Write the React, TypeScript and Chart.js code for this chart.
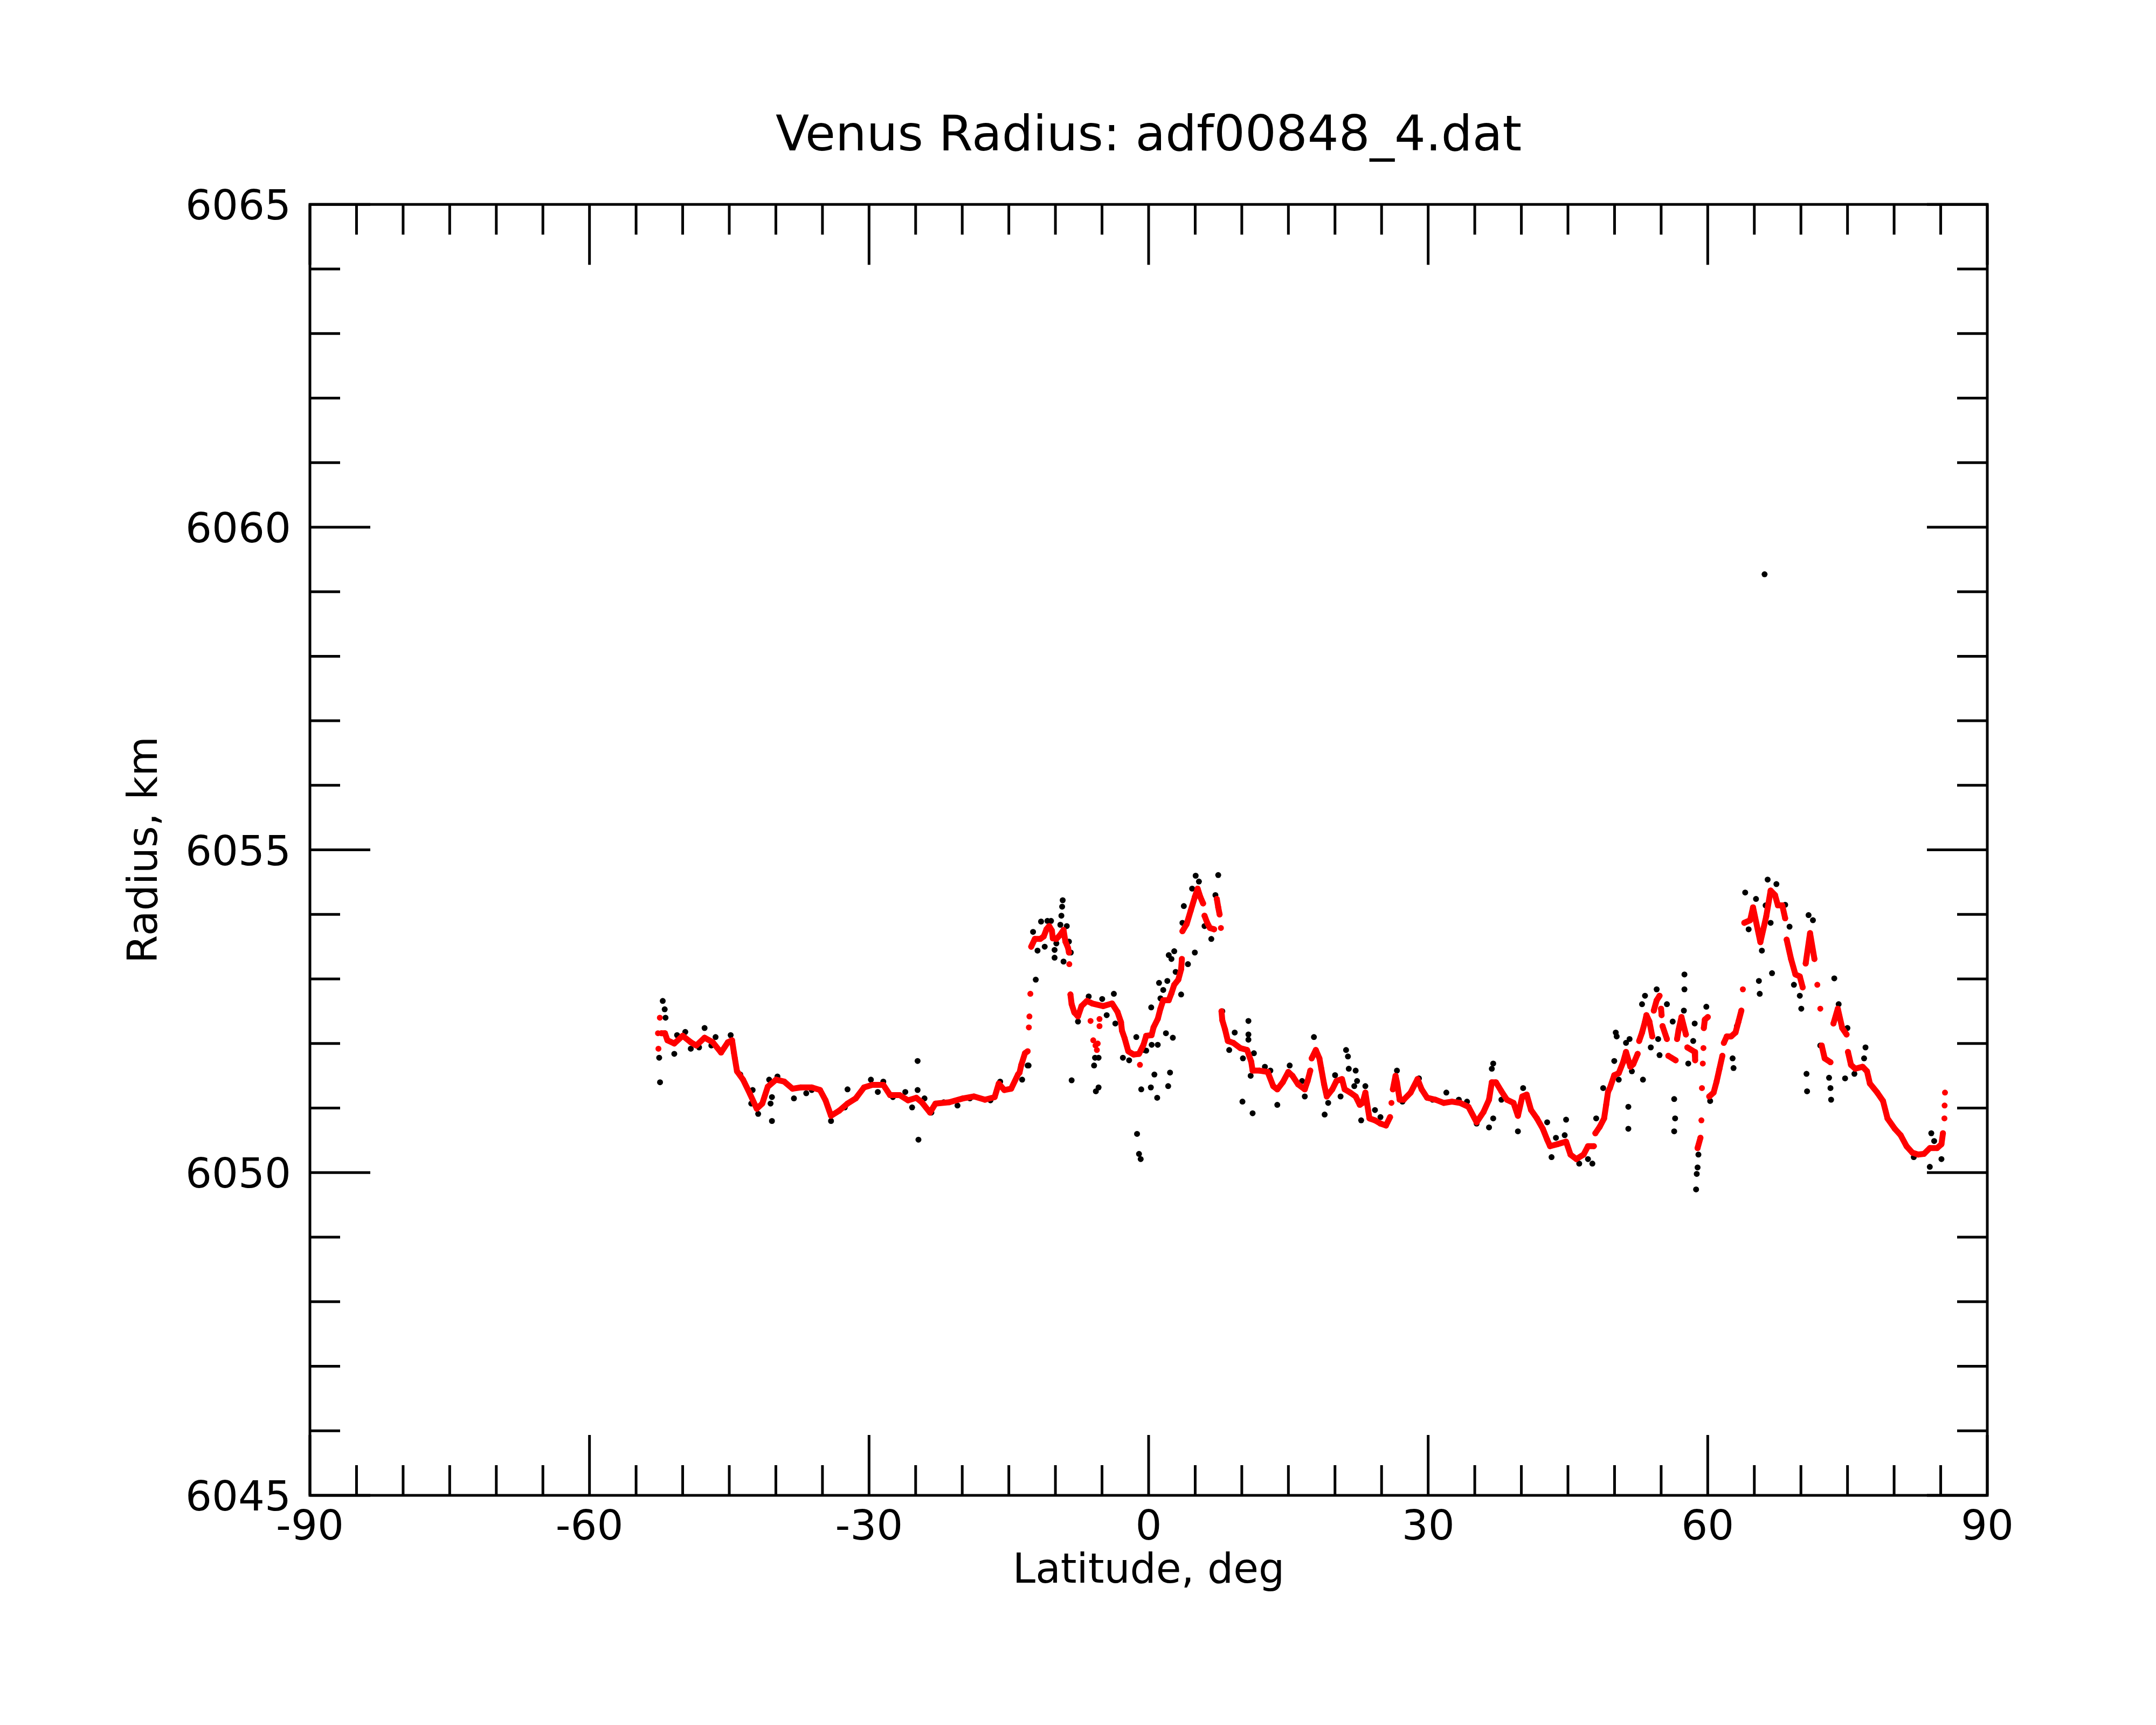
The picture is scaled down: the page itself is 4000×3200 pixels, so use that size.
import React, { useEffect, useRef } from "react";
import { Chart, registerables } from "chart.js";

Chart.register(...registerables);

// ---------------- data ----------------
const chartTitle = "Venus Radius: adf00848_4.dat";
const xAxisTitle = "Latitude, deg";
const yAxisTitle = "Radius, km";

const xMajorTicks = [-90, -60, -30, 0, 30, 60, 90];
const xMinorTicks = [-90, -85, -80, -75, -70, -65, -60, -55, -50, -45, -40, -35, -30, -25, -20, -15, -10, -5, 0, 5, 10, 15, 20, 25, 30, 35, 40, 45, 50, 55, 60, 65, 70, 75, 80, 85, 90];
const yMajorTicks = [6045, 6050, 6055, 6060, 6065];
const yMinorTicks = [6045, 6046, 6047, 6048, 6049, 6050, 6051, 6052, 6053, 6054, 6055, 6056, 6057, 6058, 6059, 6060, 6061, 6062, 6063, 6064, 6065];

// smoothed radius (red), [latitude, radius]
const smoothedPoints = [
  [-52.65, 6052.16], [-52.6, 6051.92], [-52.45, 6052.4], [-52.3, 6052.16], [-51.9, 6052.16], [-51.64, 6052.05],
  [-50.9, 6052.0], [-50.0, 6052.12], [-49.13, 6052.02], [-48.54, 6051.97], [-47.65, 6052.09], [-46.77, 6052.02],
  [-45.88, 6051.86], [-45.15, 6052.02], [-44.7, 6052.05], [-44.5, 6051.86], [-44.4, 6051.77], [-44.17, 6051.57],
  [-43.52, 6051.44], [-42.78, 6051.22], [-42.05, 6050.99], [-41.46, 6051.07], [-40.87, 6051.33], [-39.98, 6051.44],
  [-39.1, 6051.41], [-38.21, 6051.3], [-37.33, 6051.32], [-36.15, 6051.32], [-35.26, 6051.28], [-34.67, 6051.12],
  [-34.08, 6050.88], [-33.2, 6050.96], [-32.31, 6051.07], [-31.43, 6051.15], [-30.54, 6051.32], [-29.65, 6051.36],
  [-28.47, 6051.36], [-27.74, 6051.2], [-26.7, 6051.2], [-25.82, 6051.12], [-24.93, 6051.16], [-24.34, 6051.09],
  [-23.46, 6050.93], [-22.87, 6051.07], [-21.39, 6051.09], [-19.92, 6051.15], [-18.74, 6051.18], [-17.56, 6051.13],
  [-16.52, 6051.17], [-16.08, 6051.38], [-15.49, 6051.28], [-14.75, 6051.3], [-14.02, 6051.52], [-13.85, 6051.55],
  [-13.66, 6051.67], [-13.27, 6051.85], [-12.98, 6051.88], [-12.85, 6052.25], [-12.79, 6052.42], [-12.69, 6052.77],
  [-12.6, 6053.5], [-12.21, 6053.62], [-11.63, 6053.62], [-11.25, 6053.66], [-10.96, 6053.77], [-10.67, 6053.82],
  [-10.38, 6053.75], [-10.28, 6053.63], [-9.9, 6053.62], [-9.51, 6053.68], [-9.13, 6053.76], [-8.93, 6053.58],
  [-8.64, 6053.48], [-8.55, 6053.41], [-8.51, 6053.23], [-8.39, 6052.76], [-8.26, 6052.61], [-7.97, 6052.48],
  [-7.58, 6052.42], [-7.2, 6052.58], [-6.62, 6052.66], [-6.04, 6052.62], [-4.88, 6052.58], [-3.92, 6052.62],
  [-3.34, 6052.49], [-2.96, 6052.33], [-2.86, 6052.2], [-2.57, 6052.08], [-2.18, 6051.88], [-1.61, 6051.83],
  [-1.03, 6051.84], [-0.55, 6051.98], [-0.26, 6052.12], [0.32, 6052.13], [0.53, 6052.25], [0.98, 6052.38],
  [1.27, 6052.54], [1.57, 6052.67], [2.16, 6052.67], [2.45, 6052.78], [2.75, 6052.91], [3.19, 6052.99],
  [3.49, 6053.15], [3.57, 6053.31], [3.63, 6053.74], [4.08, 6053.85], [4.52, 6054.06], [4.96, 6054.27],
  [5.26, 6054.4], [5.55, 6054.27], [5.85, 6054.17], [6.0, 6053.98], [6.29, 6053.87], [6.58, 6053.79],
  [7.03, 6053.77], [7.32, 6054.24], [7.47, 6054.11], [7.62, 6054.0], [7.76, 6053.79], [7.82, 6052.5],
  [7.91, 6052.36], [8.2, 6052.22], [8.5, 6052.04], [9.09, 6052.01], [9.83, 6051.93], [10.57, 6051.9],
  [11.01, 6051.72], [11.16, 6051.58], [11.9, 6051.58], [12.78, 6051.56], [13.37, 6051.34], [13.81, 6051.29],
  [14.4, 6051.4], [14.99, 6051.56], [15.44, 6051.5], [16.03, 6051.37], [16.76, 6051.29], [17.06, 6051.42],
  [17.35, 6051.58], [17.5, 6051.77], [17.94, 6051.9], [18.33, 6051.77], [18.53, 6051.61], [18.83, 6051.37],
  [19.12, 6051.18], [19.71, 6051.29], [20.16, 6051.42], [20.75, 6051.45], [21.04, 6051.29], [21.63, 6051.24],
  [22.22, 6051.18], [22.66, 6051.05], [22.96, 6051.08], [23.26, 6051.24], [23.7, 6050.84], [24.29, 6050.81],
  [24.88, 6050.76], [25.47, 6050.73], [25.91, 6050.86], [26.06, 6051.08], [26.21, 6051.29], [26.5, 6051.5],
  [26.65, 6051.4], [26.94, 6051.13], [27.38, 6051.13], [28.12, 6051.24], [28.86, 6051.45], [29.3, 6051.29],
  [29.89, 6051.16], [30.78, 6051.13], [31.66, 6051.08], [32.55, 6051.1], [33.43, 6051.08], [34.32, 6051.02],
  [35.2, 6050.78], [35.94, 6050.94], [36.53, 6051.13], [36.83, 6051.4], [37.27, 6051.4], [37.86, 6051.26],
  [38.45, 6051.13], [39.16, 6051.08], [39.63, 6050.88], [40.1, 6051.18], [40.57, 6051.21], [41.04, 6050.97],
  [41.67, 6050.84], [42.3, 6050.68], [42.77, 6050.51], [43.08, 6050.41], [43.86, 6050.44], [44.8, 6050.48],
  [45.27, 6050.28], [45.9, 6050.21], [46.68, 6050.28], [47.15, 6050.41], [47.78, 6050.41], [47.94, 6050.61],
  [48.41, 6050.71], [48.88, 6050.84], [49.1, 6051.05], [49.3, 6051.25], [49.5, 6051.31], [49.97, 6051.51],
  [50.45, 6051.54], [50.92, 6051.71], [51.23, 6051.87], [51.7, 6051.64], [52.01, 6051.68], [52.48, 6051.84],
  [52.64, 6052.04], [52.95, 6052.17], [53.27, 6052.34], [53.42, 6052.44], [53.74, 6052.34], [54.05, 6052.11],
  [54.21, 6052.51], [54.52, 6052.67], [54.83, 6052.74], [54.99, 6052.54], [55.05, 6052.44], [55.15, 6052.27],
  [55.62, 6052.07], [55.77, 6051.81], [56.56, 6051.74], [56.71, 6052.07], [56.87, 6052.21], [57.18, 6052.41],
  [57.66, 6052.14], [57.81, 6051.94], [58.6, 6051.87], [58.65, 6051.74], [58.91, 6050.38], [59.22, 6050.54],
  [59.32, 6050.81], [59.38, 6051.31], [59.47, 6051.69], [59.54, 6051.93], [59.58, 6052.24], [59.69, 6052.37],
  [60.01, 6052.41], [60.16, 6051.18], [60.63, 6051.24], [60.95, 6051.41], [61.26, 6051.61], [61.57, 6051.81],
  [61.73, 6052.01], [62.04, 6052.11], [62.51, 6052.11], [62.98, 6052.17], [63.3, 6052.34], [63.61, 6052.51],
  [63.77, 6052.84], [63.92, 6053.87], [64.55, 6053.91], [64.86, 6054.11], [65.65, 6053.57], [66.28, 6053.97],
  [66.75, 6054.37], [67.22, 6054.3], [67.53, 6054.14], [68.0, 6054.14], [68.31, 6053.94], [68.47, 6053.61],
  [68.94, 6053.31], [69.41, 6053.07], [69.88, 6053.04], [70.19, 6052.87], [70.51, 6053.24], [70.98, 6053.71],
  [71.45, 6053.31], [71.76, 6052.91], [72.08, 6052.54], [72.23, 6051.97], [72.55, 6051.77], [73.17, 6051.71],
  [73.49, 6052.31], [73.96, 6052.54], [74.43, 6052.24], [74.9, 6052.14], [75.05, 6051.87], [75.37, 6051.67],
  [75.84, 6051.61], [76.62, 6051.64], [77.09, 6051.57], [77.4, 6051.38], [78.19, 6051.24], [78.81, 6051.11],
  [79.29, 6050.84], [80.07, 6050.68], [80.7, 6050.58], [81.33, 6050.41], [81.95, 6050.31], [82.58, 6050.28],
  [83.2, 6050.29], [83.83, 6050.38], [84.61, 6050.38], [85.08, 6050.44], [85.24, 6050.61], [85.4, 6050.84],
  [85.42, 6051.04], [85.46, 6051.24],
];

// isolated smoothed samples off the main trace (red)
const smoothedStrayPoints = [
  [-6.23, 6052.35], [-5.94, 6052.05], [-5.7, 6051.97], [-5.55, 6051.9], [-5.46, 6052.0],
  [-5.27, 6052.38], [-5.27, 6052.27], [-0.93, 6051.67],
];

// raw radius samples (black), [latitude, radius]
const rawPoints = [
  [-52.52, 6051.78], [-52.43, 6051.4], [-52.14, 6052.66], [-51.93, 6052.53], [-51.84, 6052.4], [-50.9, 6051.84],
  [-50.6, 6052.13], [-49.72, 6052.18], [-49.13, 6051.92], [-48.24, 6051.94], [-47.65, 6052.24], [-46.92, 6051.97],
  [-46.47, 6052.1], [-44.85, 6052.13], [-43.82, 6051.52], [-42.64, 6051.07], [-42.49, 6051.28], [-41.9, 6050.91],
  [-40.72, 6051.44], [-40.57, 6051.07], [-40.42, 6051.17], [-40.42, 6050.8], [-39.83, 6051.49], [-38.06, 6051.15],
  [-36.74, 6051.23], [-36.15, 6051.28], [-34.08, 6050.8], [-32.6, 6051.01], [-32.31, 6051.29], [-29.8, 6051.44],
  [-29.06, 6051.25], [-28.47, 6051.41], [-27.44, 6051.17], [-26.11, 6051.25], [-25.38, 6051.01], [-24.79, 6051.73],
  [-24.79, 6051.28], [-24.7, 6050.51], [-24.05, 6051.15], [-23.31, 6050.93], [-21.98, 6051.09], [-20.51, 6051.04],
  [-19.18, 6051.15], [-16.97, 6051.12], [-15.93, 6051.41], [-13.57, 6051.44], [-12.98, 6051.66], [-8.26, 6051.43],
  [-12.88, 6051.66], [-12.11, 6052.99], [-12.4, 6053.73], [-11.92, 6053.44], [-11.15, 6053.5], [-11.54, 6053.89],
  [-10.86, 6053.9], [-10.47, 6053.9], [-10.09, 6053.45], [-10.09, 6053.33], [-9.9, 6053.55], [-9.22, 6054.22],
  [-9.28, 6054.12], [-9.36, 6053.98], [-9.47, 6053.84], [-8.78, 6053.82], [-8.55, 6053.58], [-9.13, 6053.27],
  [-8.35, 6053.41], [-7.58, 6052.34], [-6.43, 6052.73], [-4.98, 6052.69], [-3.73, 6052.77], [-4.5, 6052.44],
  [-3.57, 6052.31], [-5.75, 6051.78], [-5.85, 6051.66], [-5.37, 6051.78], [-2.76, 6051.78], [-2.09, 6051.74],
  [-1.32, 6052.1], [-0.26, 6051.89], [0.28, 6052.56], [-5.66, 6051.26], [-5.37, 6051.32], [-1.24, 6050.6],
  [-1.03, 6050.29], [-0.85, 6050.21], [-0.79, 6051.29], [-0.5, 6051.9], [0.24, 6051.32], [0.62, 6051.52],
  [0.92, 6051.16], [0.33, 6051.98], [0.98, 6051.98], [1.12, 6052.94], [1.27, 6052.7], [1.57, 6052.83],
  [1.86, 6052.16], [2.1, 6051.34], [2.3, 6051.55], [2.6, 6052.09], [2.01, 6052.97], [2.16, 6053.37],
  [2.75, 6053.43], [2.45, 6053.31], [2.9, 6053.11], [3.49, 6052.76], [3.78, 6054.13], [4.22, 6053.23],
  [4.96, 6053.41], [3.63, 6053.87], [4.67, 6054.4], [5.05, 6054.6], [5.4, 6054.51], [6.0, 6053.82],
  [6.73, 6053.62], [7.17, 6054.3], [7.47, 6054.61], [7.91, 6052.5], [8.65, 6051.9], [9.24, 6052.17],
  [10.12, 6051.77], [10.07, 6051.1], [10.71, 6052.35], [10.71, 6052.14], [10.71, 6052.06], [11.3, 6051.85],
  [11.16, 6050.92], [10.95, 6051.5], [12.48, 6051.64], [13.07, 6051.58], [13.81, 6051.05], [15.14, 6051.66],
  [16.47, 6051.42], [16.76, 6051.18], [17.74, 6052.1], [18.89, 6050.9], [19.27, 6051.08], [20.01, 6051.51],
  [20.6, 6051.18], [21.19, 6051.9], [21.39, 6051.8], [21.48, 6051.61], [22.22, 6051.58], [22.37, 6051.42],
  [22.07, 6051.34], [23.26, 6051.34], [22.81, 6050.81], [24.29, 6050.97], [24.88, 6050.86], [26.65, 6051.58],
  [27.24, 6051.1], [29.01, 6051.46], [30.48, 6051.13], [31.95, 6051.24], [33.29, 6051.13], [34.17, 6051.1],
  [35.2, 6050.76], [36.53, 6050.7], [36.98, 6050.84], [36.98, 6051.69], [36.83, 6051.61], [37.86, 6051.13],
  [39.63, 6050.64], [40.19, 6051.31], [42.77, 6050.78], [43.24, 6050.24], [43.71, 6050.54], [44.65, 6050.58],
  [44.8, 6050.82], [46.21, 6050.14], [47.15, 6050.21], [47.62, 6050.14], [48.03, 6050.84], [48.78, 6051.31],
  [50.13, 6052.17], [50.23, 6052.11], [49.97, 6051.73], [50.45, 6051.44], [51.48, 6051.02], [51.48, 6050.68],
  [51.23, 6052.01], [51.61, 6052.07], [51.86, 6051.57], [53.05, 6051.44], [52.95, 6052.61], [53.27, 6052.74],
  [53.89, 6051.94], [54.52, 6052.84], [54.68, 6052.07], [54.83, 6051.82], [55.62, 6052.61], [56.24, 6052.34],
  [56.4, 6051.14], [56.5, 6050.84], [56.4, 6050.64], [57.5, 6053.07], [57.5, 6052.84], [57.44, 6052.51],
  [57.91, 6051.69], [58.44, 6052.04], [58.6, 6052.31], [59.0, 6050.28], [58.91, 6050.08], [58.82, 6049.98],
  [58.75, 6049.74], [59.85, 6052.57], [60.26, 6051.11], [62.67, 6051.77], [62.77, 6051.62], [63.14, 6052.27],
  [64.02, 6054.34], [64.39, 6053.77], [65.18, 6054.24], [65.49, 6052.97], [65.58, 6052.77], [65.81, 6053.44],
  [66.43, 6054.54], [66.21, 6054.14], [66.75, 6053.87], [66.9, 6053.09], [67.37, 6054.47], [68.31, 6054.15],
  [68.78, 6053.81], [69.25, 6052.91], [69.88, 6052.74], [70.04, 6052.54], [70.6, 6051.53], [70.66, 6051.26],
  [70.82, 6053.99], [71.29, 6053.91], [72.08, 6051.97], [73.02, 6051.47], [73.17, 6051.31], [73.24, 6051.13],
  [73.58, 6053.01], [74.05, 6052.61], [74.99, 6052.24], [74.74, 6051.46], [75.74, 6051.53], [76.93, 6051.94],
  [76.78, 6051.77], [82.11, 6050.24], [83.99, 6050.61], [84.3, 6050.49], [83.83, 6050.09], [85.08, 6050.21],
  [66.1, 6059.27],
];

// ---------------- styling ----------------
const FONT = "'DejaVu Sans', 'Noto Sans', sans-serif";
const FRAME_WIDTH = 5;
const MAJOR_LEN = 112;
const MINOR_LEN = 56;

const frameTicksPlugin = {
  id: "frameTicks",
  afterDatasetsDraw(chart: any) {
    const { ctx, chartArea, scales } = chart;
    const { left, right, top, bottom } = chartArea;
    const xs = scales.x;
    const ys = scales.y;
    ctx.save();
    ctx.strokeStyle = "#000";
    ctx.lineWidth = FRAME_WIDTH;
    ctx.lineCap = "butt";
    ctx.beginPath();
    for (const v of xMinorTicks) {
      const len = xMajorTicks.includes(v) ? MAJOR_LEN : MINOR_LEN;
      const px = xs.getPixelForValue(v);
      ctx.moveTo(px, bottom);
      ctx.lineTo(px, bottom - len);
      ctx.moveTo(px, top);
      ctx.lineTo(px, top + len);
    }
    for (const v of yMinorTicks) {
      const len = yMajorTicks.includes(v) ? MAJOR_LEN : MINOR_LEN;
      const py = ys.getPixelForValue(v);
      ctx.moveTo(left, py);
      ctx.lineTo(left + len, py);
      ctx.moveTo(right, py);
      ctx.lineTo(right - len, py);
    }
    ctx.stroke();
    ctx.strokeRect(left, top, right - left, bottom - top);
    ctx.restore();
  },
};

const toXY = (pts: number[][]) => pts.map(([x, y]) => ({ x, y }));

export default function App() {
  const canvasRef = useRef<HTMLCanvasElement | null>(null);

  useEffect(() => {
    document.body.style.margin = "0";
    const canvas = canvasRef.current;
    if (!canvas) return;
    const chart = new Chart(canvas, {
      type: "scatter",
      data: {
        datasets: [
          {
            label: "smoothed",
            data: toXY(smoothedPoints),
            showLine: true,
            borderColor: "#ff0000",
            borderWidth: 11,
            borderCapStyle: "round",
            borderJoinStyle: "round",
            pointRadius: 5.5,
            pointBorderWidth: 0,
            pointBackgroundColor: "#ff0000",
            order: 0,
            segment: {
              borderColor: (c: any) => {
                const dx = Math.abs(c.p1.x - c.p0.x);
                const dy = Math.abs(c.p1.y - c.p0.y);
                return dy > 20 && dy > 8 * dx ? "rgba(0,0,0,0)" : undefined;
              },
            },
          },
          {
            label: "smoothed stray",
            data: toXY(smoothedStrayPoints),
            showLine: false,
            pointRadius: 5.5,
            pointBorderWidth: 0,
            pointBackgroundColor: "#ff0000",
            order: 1,
          },
          {
            label: "raw",
            data: toXY(rawPoints),
            showLine: false,
            pointRadius: 5.5,
            pointBorderWidth: 0,
            pointBackgroundColor: "#000000",
            order: 2,
          },
        ],
      },
      options: {
        animation: false,
        responsive: false,
        devicePixelRatio: 1,
        events: [],
        layout: { padding: { left: 0, top: 0, right: 313, bottom: 0 } },
        plugins: {
          legend: { display: false },
          tooltip: { enabled: false },
          title: {
            display: true,
            text: chartTitle,
            color: "#000",
            fullSize: false,
            font: { family: FONT, size: 91, weight: "normal" },
            padding: { top: 201, bottom: 69 },
          },
        },
        scales: {
          x: {
            type: "linear",
            min: -90,
            max: 90,
            grid: { display: false },
            border: { display: false },
            afterBuildTicks: (s: any) => {
              s.ticks = xMajorTicks.map((v) => ({ value: v }));
            },
            afterFit: (s: any) => {
              s.height = 426;
            },
            ticks: {
              color: "#000",
              padding: 8,
              maxRotation: 0,
              autoSkip: false,
              font: { family: FONT, size: 77 },
              callback: (v: any) => String(v),
            },
            title: {
              display: true,
              text: xAxisTitle,
              color: "#000",
              font: { family: FONT, size: 76 },
              padding: { top: 0, bottom: 238 },
            },
          },
          y: {
            type: "linear",
            min: 6045,
            max: 6065,
            grid: { display: false },
            border: { display: false },
            afterBuildTicks: (s: any) => {
              s.ticks = yMajorTicks.map((v) => ({ value: v }));
            },
            afterFit: (s: any) => {
              s.width = 575;
            },
            ticks: {
              color: "#000",
              padding: 27,
              labelOffset: 8,
              autoSkip: false,
              font: { family: FONT, size: 77 },
              callback: (v: any) => String(v),
            },
            title: {
              display: true,
              text: yAxisTitle,
              color: "#000",
              font: { family: FONT, size: 76 },
              padding: { top: 226, bottom: 0 },
            },
          },
        },
      },
      plugins: [frameTicksPlugin],
    } as any);
    return () => chart.destroy();
  }, []);

  return (
    <div style={{ width: 4000, height: 3200, background: "#fff" }}>
      <canvas ref={canvasRef} width={4000} height={3200} style={{ display: "block", width: 4000, height: 3200 }} />
    </div>
  );
}
